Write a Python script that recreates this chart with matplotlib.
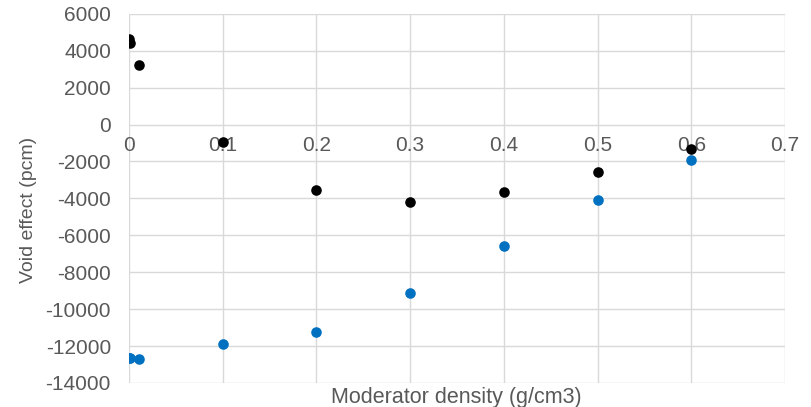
import matplotlib.pyplot as plt

plt.rcParams['font.family'] = ['Liberation Sans', 'DejaVu Sans']
plt.rcParams['axes.unicode_minus'] = False

# black series
x_black = [0, 0.001, 0.011, 0.1, 0.2, 0.3, 0.4, 0.5, 0.6]
y_black = [4620, 4440, 3250, -920, -3540, -4210, -3670, -2570, -1320]

# blue series
x_blue = [0, 0.001, 0.011, 0.1, 0.2, 0.3, 0.4, 0.5, 0.6]
y_blue = [-12640, -12670, -12720, -11900, -11220, -9120, -6590, -4100, -1930]

xticks = [0, 0.1, 0.2, 0.3, 0.4, 0.5, 0.6, 0.7]
yticks = list(range(-14000, 6001, 2000))

fig = plt.figure(figsize=(8.11, 4.07), dpi=100)
ax = fig.add_axes([0.159, 0.059, 0.809, 0.907])

ax.scatter(x_blue, y_blue, s=58, color='#0070c0', zorder=3, linewidths=0)
ax.scatter(x_black, y_black, s=58, color='black', zorder=3, linewidths=0)

ax.set_xlim(0, 0.7)
ax.set_ylim(-14000, 6000)
ax.set_xticks(xticks)
ax.set_xticklabels(['0', '0.1', '0.2', '0.3', '0.4', '0.5', '0.6', '0.7'])
ax.set_yticks(yticks)
ax.grid(True, color='#d9d9d9', linewidth=1)
ax.set_axisbelow(True)

for s in ['top', 'right', 'left']:
    ax.spines[s].set_visible(False)
ax.spines['bottom'].set_position(('data', 0))
ax.spines['bottom'].set_visible(False)

ax.tick_params(axis='both', length=0, labelsize=15, colors='#595959')
ax.tick_params(axis='x', pad=8)
ax.tick_params(axis='y', pad=13)

ax.set_ylabel('Void effect (pcm)', fontsize=14, color='#595959')
ax.yaxis.set_label_coords(-0.14, 0.47)
fig.text(0.563, 1 - 397 / 407, 'Moderator density (g/cm3)', fontsize=15.5,
         color='#595959', ha='center', va='center')

fig.savefig('out.png', dpi=100)
